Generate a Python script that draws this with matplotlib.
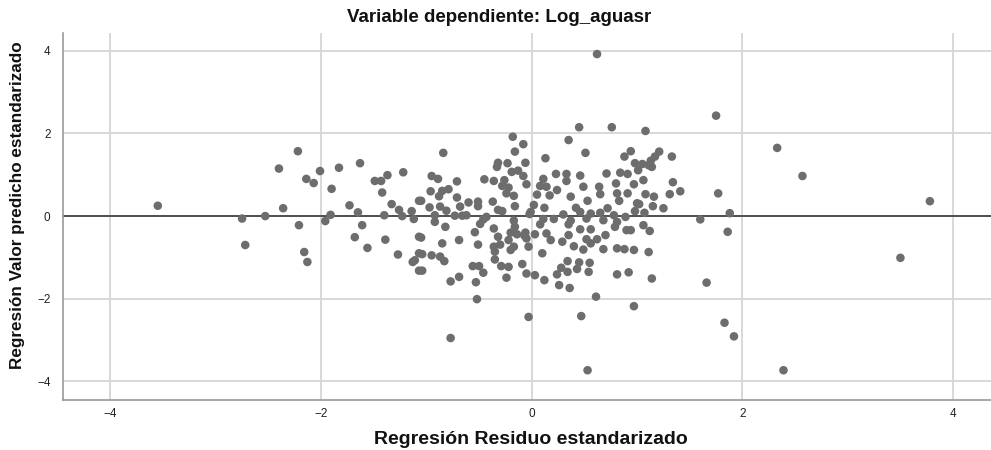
import numpy as np
import matplotlib
matplotlib.use("Agg")
import matplotlib.pyplot as plt

plt.rcParams['font.family'] = ['Liberation Sans', 'DejaVu Sans']

# standardized residual / standardized predicted value pairs
resid = [
    -3.55, -2.75, -2.72, -2.53, -2.40, -2.36, -2.22, -2.21, -2.14, -2.16, -2.13,
    -2.07, -2.01, -1.96, -1.91, -1.90, -1.83, -1.63, -1.73, -1.65, -1.61, -1.68,
    -1.56, -1.49, -1.43, -1.37, -1.42, -1.33, -1.40, -1.26, -1.23, -1.22, -1.39,
    -1.27, -1.14, -1.12, -1.13, -1.11, -1.07, -1.07, -1.07, -1.07,
    -0.18, -0.08, -0.16, -0.84, -0.32, -0.23, -0.33, -0.06, -0.19, -0.13, -0.08,
    -0.95, -0.89, -0.71, -0.45, -0.36, -0.26, -0.28, -0.22, -0.05, -0.96, -0.85,
    -0.79, -0.88, -0.24, -0.17, -1.05, -0.71, -0.68, -0.60, -0.51, -0.51, -0.37,
    -0.32, -0.28, -0.16, -0.97, -0.87, -0.81, -0.92, -0.73, -0.66, -0.62, -0.43,
    -0.46, -0.02, -0.92, -0.82, -0.49, -0.17, -0.16, -0.36, -0.54, -0.20, -0.14,
    -0.07, -1.05, -0.69, -0.32, -0.22, -0.85, -0.51, -0.36, -0.30, -0.17, -0.03,
    -0.35, -0.20, -1.04, -0.95, -0.87, -0.83, -0.35, -0.09, -0.56, -0.50, -0.29,
    -0.22, -1.04, -0.46, -0.05, -0.69, -0.24, -0.77, -0.53, -0.52, -0.03, -0.77,
    0.62, 0.45, 0.76, 0.35, 0.51, 0.94, 0.13, 0.88, 0.98, 0.23, 0.33, 0.46,
    0.71, 0.84, 0.91, 0.11, 0.33, 0.08, 0.14, 0.49, 0.64, 0.80, 0.24, 0.05,
    0.17, 0.37, 0.65, 0.81, 0.91, 0.53, 0.83, 1.00, 0.02, 0.12, 0.42, 0.72,
    -0.01, 0.46, 0.56, 0.65, 0.98, 0.30, 0.78, 0.89, 0.11, 0.21, 0.37, 0.52,
    0.68, 0.81, 0.08, 0.35, 0.79, 0.46, 0.56, 0.90, 0.94, -0.06, 0.03, 0.14,
    0.35, 0.70, -0.05, 0.18, 0.29, 0.52, 0.62, 0.56, 0.40, 0.49, 0.68, 0.81,
    0.88, 0.97, 0.10, 0.34, 0.45, 0.55, 0.28, 0.34, 0.43, 0.54, 0.03, 0.24,
    0.81, 0.92, 0.12, 0.26, 0.36, 0.61, 0.97, 0.47, 0.53,
    1.75, 1.08, 1.21, 1.33, 1.17, 1.13, 1.05, 1.11, 1.01, 1.14, 1.06, 1.34,
    0.97, 1.77, 1.41, 1.31, 1.08, 1.16, 1.02, 1.15, 1.25, 1.07, 1.88, 1.60,
    1.06, 1.12, 1.86, 1.11, 1.14, 1.66, 1.83, 1.92,
    2.33, 2.57, 3.78, 3.50, 2.39,
]
pred = [
    0.25, -0.06, -0.70, 0.00, 1.15, 0.19, 1.57, -0.22, 0.90, -0.87, -1.11,
    0.80, 1.09, -0.12, 0.03, 0.66, 1.17, 1.28, 0.26, 0.09, -0.22, -0.51,
    -0.77, 0.85, 0.85, 0.99, 0.57, 0.29, 0.02, 0.15, 0.00, 1.06, -0.57,
    -0.93, 0.12, -0.07, -1.11, -1.07, 0.37, -0.50, -0.90, -1.32,
    1.92, 1.74, 1.56, 1.53, 1.29, 1.28, 1.19, 1.29, 1.07, 1.10, 0.97,
    0.97, 0.90, 0.84, 0.89, 0.85, 0.87, 0.73, 0.69, 0.77, 0.60, 0.61,
    0.65, 0.48, 0.55, 0.49, 0.37, 0.45, 0.23, 0.33, 0.35, 0.24, 0.35,
    0.15, 0.12, 0.24, 0.21, 0.23, 0.13, 0.02, 0.01, 0.01, 0.02, -0.02,
    -0.08, 0.05, -0.14, -0.26, -0.19, -0.11, -0.26, -0.30, -0.39, -0.40, -0.44,
    -0.47, -0.52, -0.58, -0.50, -0.58, -0.66, -0.69, -0.74, -0.69, -0.74, -0.74,
    -0.86, -0.82, -0.92, -0.95, -0.98, -1.09, -1.05, -1.16, -1.21, -1.21, -1.21,
    -1.23, -1.32, -1.37, -1.39, -1.47, -1.49, -1.58, -1.60, -2.01, -2.44, -2.95,
    3.92, 2.15, 2.15, 1.84, 1.53, 1.57, 1.40, 1.44, 1.28, 1.02, 1.02, 0.98,
    1.03, 1.05, 1.02, 0.90, 0.85, 0.73, 0.71, 0.71, 0.71, 0.79, 0.63, 0.52,
    0.50, 0.47, 0.53, 0.55, 0.55, 0.37, 0.37, 0.31, 0.27, 0.20, 0.20, 0.19,
    0.10, 0.10, 0.06, 0.08, 0.12, 0.04, 0.02, -0.02, -0.07, -0.07, -0.11, -0.06,
    -0.10, -0.14, -0.20, -0.20, -0.26, -0.32, -0.32, -0.34, -0.34, -0.40, -0.44, -0.42,
    -0.46, -0.46, -0.54, -0.58, -0.62, -0.56, -0.56, -0.66, -0.73, -0.81, -0.80, -0.78,
    -0.80, -0.82, -0.90, -1.09, -1.12, -1.13, -1.25, -1.35, -1.28, -1.35, -1.43, -1.41,
    -1.41, -1.36, -1.55, -1.67, -1.74, -1.95, -2.18, -2.42, -3.73,
    2.43, 2.06, 1.56, 1.44, 1.44, 1.34, 1.26, 1.23, 1.11, 1.19, 0.87, 0.82,
    0.77, 0.55, 0.60, 0.53, 0.53, 0.47, 0.29, 0.24, 0.19, 0.08, 0.07, -0.08,
    -0.22, -0.36, -0.38, -0.87, -1.51, -1.61, -2.58, -2.91,
    1.65, 0.97, 0.36, -1.01, -3.73,
]
xticks = [-4, -2, 0, 2, 4]
yticks = [-4, -2, 0, 2, 4]

fig = plt.figure(figsize=(9.91, 4.5), dpi=100)
ax = fig.add_axes([63 / 991, 1 - 400 / 450, 1 - 63 / 991, (400 - 33) / 450])

ax.scatter(resid, pred, s=38, color='#6d6d6d', edgecolors='none', zorder=3)
ax.axhline(0, color='#2a2a2a', lw=1.1, zorder=2)

ax.set_xlim(-4.45, 4.36)
ax.set_ylim(-4.45, 4.43)
ax.set_xticks(xticks)
ax.set_yticks(yticks)
ax.grid(True, color='#d6d6d6', lw=1.3, zorder=0)
ax.tick_params(length=0, labelsize=8.5, colors='#222222')
ax.tick_params(axis='x', pad=6)
ax.tick_params(axis='y', pad=9)

for side in ['top', 'right']:
    ax.spines[side].set_visible(False)
for side in ['left', 'bottom']:
    ax.spines[side].set_color('#9a9a9a')
    ax.spines[side].set_linewidth(1.2)

fig.text(499 / 991, 0.96, 'Variable dependiente: Log_aguasr', ha='center', va='center',
         fontsize=13.5, fontweight='bold', color='#111111')
fig.text(531 / 991, 1 - 439 / 450, 'Regresión Residuo estandarizado', ha='center',
         va='center', fontsize=14, fontweight='bold', color='#111111')
fig.text(18 / 991, 1 - 205 / 450, 'Regresión Valor predicho estandarizado', ha='center',
         va='center', rotation=90, fontsize=12.3, fontweight='bold', color='#111111')

fig.savefig('out.png', dpi=100)
